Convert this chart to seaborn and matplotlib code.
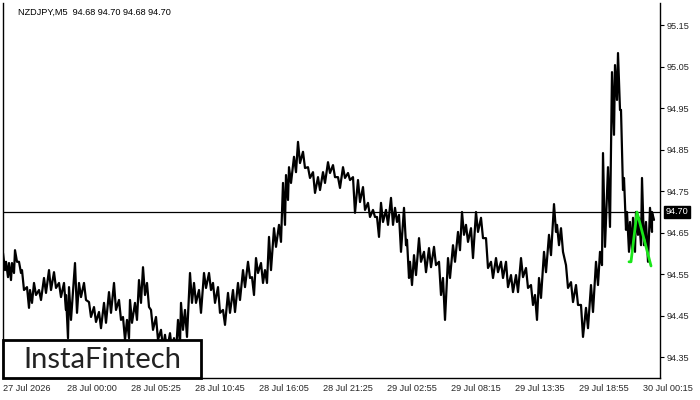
import numpy as np
import pandas as pd
import matplotlib
matplotlib.use("Agg")
import matplotlib.pyplot as plt
from matplotlib.patches import Rectangle
import seaborn as sns

# ---- data (5-minute NZDJPY bars, aggregated) ----
bar_idx = [1, 4, 7, 10, 13, 17, 20, 25, 28, 32, 37, 42, 47, 52, 57, 62, 64, 67, 73, 77,
           82, 87, 92, 97, 102, 107, 112, 117, 121, 125, 128, 133, 137, 141, 145, 149, 154, 159, 163, 168,
           172, 176, 179, 183, 188, 192, 197, 202, 207, 211, 216, 221, 226, 231, 236, 241, 246, 250, 254, 259,
           263, 267, 272, 277, 281, 284, 287, 292, 296, 301, 306, 311, 316, 321, 326, 331, 336, 341, 346, 351,
           356, 361, 366, 371, 375, 379, 384, 389, 393, 397, 402, 405, 408, 412, 417, 422, 427, 432, 437, 441,
           446, 451, 456, 460, 464, 469, 474, 479, 484, 489, 494, 499, 504, 509, 514, 519, 524, 529, 533, 537,
           542, 547, 552, 555, 559, 564, 569, 574, 579, 584, 589, 594, 598, 601, 606, 610, 613, 616, 619, 622,
           625, 628, 631, 634, 637, 640, 644, 648, 650]
high = [94.601, 94.580, 94.577, 94.577, 94.608, 94.580, 94.560, 94.519, 94.512, 94.529, 94.512, 94.541, 94.560, 94.555, 94.529, 94.529, 94.500, 94.519, 94.577, 94.529,
        94.529, 94.483, 94.471, 94.459, 94.481, 94.507, 94.529, 94.488, 94.447, 94.440, 94.488, 94.481, 94.536, 94.567, 94.529, 94.464, 94.447, 94.416, 94.404, 94.408,
        94.396, 94.440, 94.481, 94.464, 94.553, 94.529, 94.512, 94.553, 94.553, 94.529, 94.519, 94.464, 94.505, 94.512, 94.529, 94.560, 94.580, 94.543, 94.589, 94.577,
        94.560, 94.640, 94.661, 94.669, 94.770, 94.789, 94.808, 94.833, 94.869, 94.845, 94.808, 94.796, 94.784, 94.796, 94.820, 94.813, 94.784, 94.808, 94.794, 94.784,
        94.777, 94.760, 94.722, 94.705, 94.688, 94.722, 94.705, 94.734, 94.710, 94.693, 94.710, 94.633, 94.580, 94.596, 94.637, 94.604, 94.613, 94.616, 94.580, 94.541,
        94.589, 94.620, 94.652, 94.700, 94.669, 94.661, 94.700, 94.686, 94.637, 94.580, 94.589, 94.580, 94.580, 94.548, 94.548, 94.589, 94.565, 94.524, 94.500, 94.541,
        94.604, 94.645, 94.719, 94.669, 94.661, 94.572, 94.531, 94.524, 94.476, 94.469, 94.524, 94.580, 94.604, 94.842, 94.808, 95.037, 95.054, 95.083, 94.946, 94.782,
        94.700, 94.676, 94.686, 94.700, 94.686, 94.782, 94.676, 94.710, 94.700]
low = [94.560, 94.543, 94.536, 94.553, 94.580, 94.553, 94.512, 94.469, 94.481, 94.500, 94.488, 94.505, 94.512, 94.517, 94.495, 94.464, 94.396, 94.440, 94.457, 94.495,
       94.488, 94.447, 94.435, 94.420, 94.433, 94.457, 94.464, 94.440, 94.392, 94.396, 94.433, 94.440, 94.481, 94.500, 94.471, 94.416, 94.392, 94.372, 94.367, 94.367,
       94.363, 94.380, 94.416, 94.399, 94.481, 94.481, 94.457, 94.517, 94.512, 94.481, 94.457, 94.428, 94.457, 94.459, 94.488, 94.519, 94.541, 94.500, 94.553, 94.529,
       94.529, 94.560, 94.616, 94.628, 94.669, 94.729, 94.770, 94.796, 94.818, 94.806, 94.782, 94.746, 94.753, 94.770, 94.794, 94.784, 94.758, 94.782, 94.777, 94.698,
       94.724, 94.705, 94.688, 94.688, 94.640, 94.676, 94.669, 94.669, 94.676, 94.604, 94.620, 94.541, 94.524, 94.548, 94.580, 94.555, 94.567, 94.572, 94.500, 94.440,
       94.541, 94.580, 94.608, 94.645, 94.628, 94.589, 94.652, 94.637, 94.565, 94.541, 94.555, 94.541, 94.519, 94.507, 94.507, 94.543, 94.517, 94.476, 94.440, 94.493,
       94.555, 94.596, 94.652, 94.620, 94.604, 94.517, 94.483, 94.476, 94.399, 94.420, 94.459, 94.524, 94.572, 94.616, 94.664, 94.886, 94.970, 94.946, 94.753, 94.657,
       94.604, 94.608, 94.604, 94.645, 94.620, 94.620, 94.580, 94.652, 94.681]

tick_pos = [0, 64, 128, 192, 256, 320, 384, 448, 512, 576, 640]
tick_labels = ["27 Jul 2026", "28 Jul 00:00", "28 Jul 05:25", "28 Jul 10:45", "28 Jul 16:05",
               "28 Jul 21:25", "29 Jul 02:55", "29 Jul 08:15", "29 Jul 13:35", "29 Jul 18:55",
               "30 Jul 00:15"]
price_ticks = [94.35, 94.45, 94.55, 94.65, 94.75, 94.85, 94.95, 95.05, 95.15]
price_tick_labels = ["94.35", "94.45", "94.55", "94.65", "94.75", "94.85", "94.95", "95.05", "95.15"]
current_price = 94.70
pattern_bar = [626, 628, 634, 648]
pattern_price = [94.580, 94.580, 94.700, 94.570]
title = "NZDJPY,M5  94.68 94.70 94.68 94.70"

# ---- styling ----
sns.set_style("white")
plt.rcParams["font.family"] = ["Liberation Sans", "DejaVu Sans"]
FS = 6.6

W, H = 700, 400
fig = plt.figure(figsize=(7, 4), dpi=100)
ax = fig.add_axes([3 / W, 22 / H, 657 / W, 375 / H])
ax.set_facecolor("white")

# build zig-zag path through high/low of each aggregated bar
xs, ys = [], []
for b, h, l in zip(bar_idx, high, low):
    xs += [b - 1, b + 1]
    ys += [h, l]
df = pd.DataFrame({"bar": xs, "price": ys})
sns.lineplot(data=df, x="bar", y="price", sort=False, estimator=None,
             color="black", lw=1.6, ax=ax, zorder=3)

# current price line
ax.axhline(current_price, color="black", lw=0.9, zorder=2)

# pattern (green)
pdf = pd.DataFrame({"bar": pattern_bar, "price": pattern_price})
sns.lineplot(data=pdf, x="bar", y="price", sort=False, estimator=None,
             color="#19e619", lw=2.0, ax=ax, zorder=4)

ax.set_xlim(0, 657)
ax.set_ylim(94.30, 95.2036)
ax.set_xlabel("")
ax.set_ylabel("")

# axes / ticks
for s in ["left", "bottom", "right"]:
    ax.spines[s].set_visible(True)
    ax.spines[s].set_color("black")
    ax.spines[s].set_linewidth(1.0)
ax.spines["top"].set_visible(False)

ax.set_xticks(tick_pos)
ax.set_xticklabels(tick_labels, fontsize=FS, ha="left")
ax.tick_params(axis="x", direction="out", length=3, width=0.8, pad=1.5, color="black")

ax.yaxis.tick_right()
ax.set_yticks(price_ticks)
ax.set_yticklabels(price_tick_labels, fontsize=FS)
ax.tick_params(axis="y", direction="out", length=3, width=0.8, pad=2, color="black")

# current price tag
ax.annotate(f"{current_price:.2f}", xy=(1.0, current_price), xycoords=("axes fraction", "data"),
            xytext=(4, 0), textcoords="offset points", va="center", ha="left",
            fontsize=FS, color="white",
            bbox=dict(boxstyle="square,pad=0.2", fc="black", ec="black"), zorder=10,
            annotation_clip=False)

# title
fig.text(18 / W, 1 - 12 / H, title, fontsize=FS, va="center", ha="left", color="black")

# logo box
fig.patches.append(Rectangle((3 / W, 22 / H), 198 / W, 38 / H, transform=fig.transFigure,
                             facecolor="white", edgecolor="black", lw=2.0, zorder=20))
fig.text(102 / W, 1 - 360 / H, "InstaFintech", fontsize=21, family=["Lato", "DejaVu Sans"],
         color="#222222", ha="center", va="center", zorder=21)

fig.savefig("out.png", dpi=100, facecolor="white")
